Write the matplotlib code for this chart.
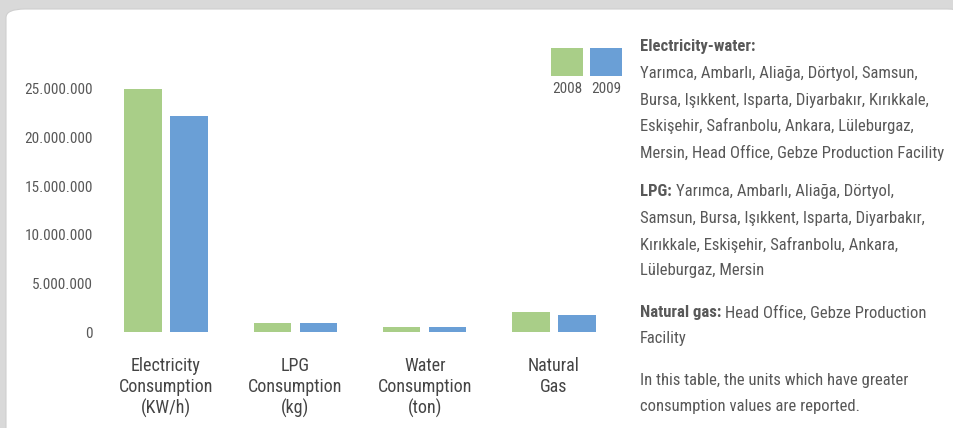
import matplotlib
matplotlib.use("Agg")
import matplotlib.pyplot as plt
import numpy as np
from matplotlib.patches import FancyBboxPatch, Rectangle
from matplotlib.ticker import FuncFormatter

plt.rcParams["font.family"] = ["Roboto Condensed", "DejaVu Sans"]

# data
categories = ["Electricity\nConsumption\n(KW/h)", "LPG\nConsumption\n(kg)",
              "Water\nConsumption\n(ton)", "Natural\nGas"]
years = ["2008", "2009"]
values_2008 = [25_000_000, 900_000, 550_000, 2_100_000]
values_2009 = [22_200_000, 880_000, 520_000, 1_800_000]
yticks = [0, 5_000_000, 10_000_000, 15_000_000, 20_000_000, 25_000_000]

GREEN = "#A9CE88"
BLUE = "#6A9FD6"
TEXT = "#585858"

W, H = 954, 428
fig = plt.figure(figsize=(W / 100, H / 100), dpi=100)
fig.patch.set_facecolor("#d9d9d9")


def fx(px):
    return px / W


def fy(py):
    return 1 - py / H


# white rounded panel
panel = FancyBboxPatch((fx(6), fy(440)), fx(960), fy(9) - fy(440),
                       boxstyle="round,pad=0,rounding_size=0.02",
                       transform=fig.transFigure, facecolor="white",
                       edgecolor="#cfcfcf", linewidth=0.8, zorder=-5)
fig.patches.append(panel)

# chart axes
ax = fig.add_axes([fx(100), 96 / H, fx(520), 272 / H])
ax.set_facecolor("none")
x = np.arange(len(categories))
bw = 0.29
off = 0.178
ax.bar(x - off, values_2008, bw, color=GREEN, zorder=2)
ax.bar(x + off, values_2009, bw, color=BLUE, zorder=2)
ax.set_xlim(-0.51, 3.51)
ax.set_ylim(0, 27_980_000)
ax.set_yticks(yticks)
ax.yaxis.set_major_formatter(FuncFormatter(lambda v, p: f"{int(v):,}".replace(",", ".")))
ax.tick_params(axis="y", length=0, pad=5, labelsize=11, labelcolor=TEXT)
ax.set_xticks(x)
ax.set_xticklabels(categories, fontsize=13, color="#444444", linespacing=1.2)
ax.tick_params(axis="x", length=0, pad=18)
for s in ax.spines.values():
    s.set_visible(False)

# legend squares
for i, (yr, col) in enumerate(zip(years, [GREEN, BLUE])):
    x0 = 551 + i * 39
    fig.patches.append(Rectangle((fx(x0), fy(76)), fx(32), fy(48) - fy(76),
                                 transform=fig.transFigure, facecolor=col,
                                 edgecolor="none"))
    fig.text(fx(x0 + 16), fy(89), yr, ha="center", va="center",
             fontsize=11, color=TEXT)

# right side text
fig.canvas.draw()
renderer = fig.canvas.get_renderer()


def mixed(px, py, bold, rest, size=12):
    t = fig.text(fx(px), fy(py), bold, fontsize=size, fontweight="bold",
                 color=TEXT, va="center", ha="left")
    if rest:
        bb = t.get_window_extent(renderer)
        fig.text(bb.x1 / W + fx(4), fy(py), rest, fontsize=size,
                 color=TEXT, va="center", ha="left")


def plain(px, py, s, size=12):
    fig.text(fx(px), fy(py), s, fontsize=size, color=TEXT, va="center", ha="left")


tx = 640
mixed(tx, 46, "Electricity-water:", "")
plain(tx, 73, "Yarımca, Ambarlı, Aliağa, Dörtyol, Samsun,")
plain(tx, 100, "Bursa, Işıkkent, Isparta, Diyarbakır, Kırıkkale,")
plain(tx, 126, "Eskişehir, Safranbolu, Ankara, Lüleburgaz,")
plain(tx, 153, "Mersin, Head Office, Gebze Production Facility")
mixed(tx, 191, "LPG:", "Yarımca, Ambarlı, Aliağa, Dörtyol,")
plain(tx, 218, "Samsun, Bursa, Işıkkent, Isparta, Diyarbakır,")
plain(tx, 245, "Kırıkkale, Eskişehir, Safranbolu, Ankara,")
plain(tx, 271, "Lüleburgaz, Mersin")
mixed(tx, 313, "Natural gas:", "Head Office, Gebze Production")
plain(tx, 339, "Facility")
plain(tx, 380, "In this table, the units which have greater")
plain(tx, 406, "consumption values are reported.")

fig.savefig("out.png", dpi=100)
